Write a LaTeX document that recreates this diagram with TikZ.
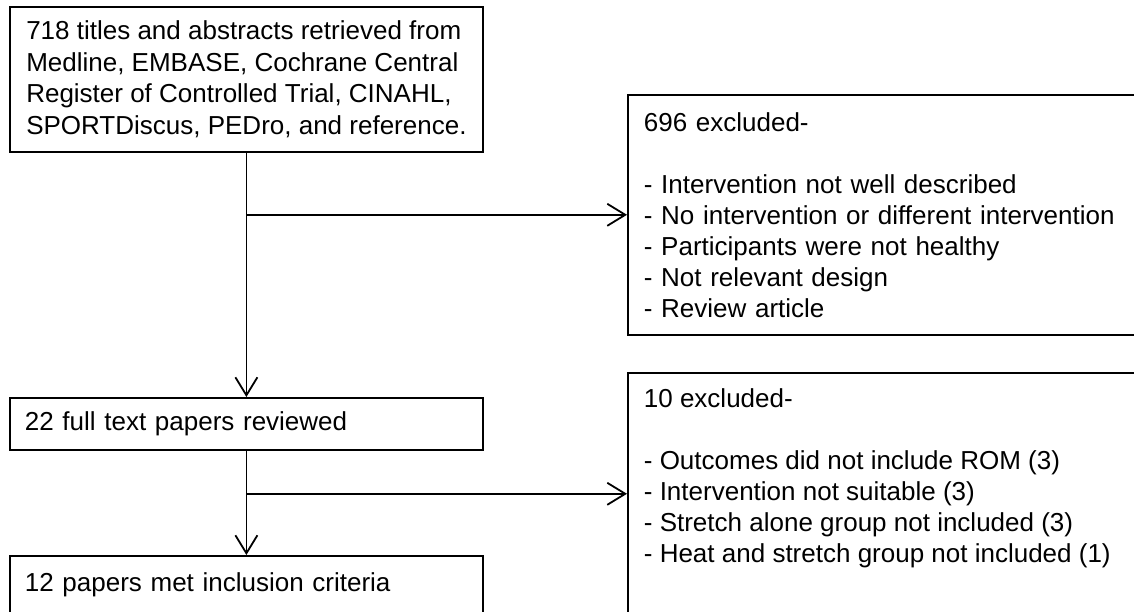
\documentclass[tikz,border=0pt]{standalone}
\usepackage{fontspec}
\setmainfont{Liberation Sans}
\usetikzlibrary{arrows.meta}
\begin{document}
\begin{tikzpicture}[x=1pt,y=-1pt,
  box/.style={draw, line width=1.8pt, anchor=north west, align=left,
    inner xsep=15pt, inner ysep=0pt, text width=443pt,
    font=\fontsize{26}{31.5}\selectfont},
  rbox/.style={draw, line width=1.8pt, anchor=north west, align=left,
    inner xsep=16pt, inner ysep=0pt, text width=560pt,
    font=\fontsize{26}{31}\selectfont},
  arr/.style={line width=1.8pt, -{Straight Barb[length=18pt,width=22pt]}}]
\clip (0,0) rectangle (1134,611);
\fill[white] (0,0) rectangle (1134,611);
\node[draw, line width=1.8pt, anchor=north west, align=left, inner sep=0pt,
  minimum width=473pt, minimum height=145pt, font=\fontsize{26}{31.5}\selectfont] (b1) at (9,6)
  {718 titles and abstracts retrieved from\\Medline, EMBASE, Cochrane Central\\Register of Controlled Trial, CINAHL,\\SPORTDiscus, PEDro, and reference.};
\node[rbox, minimum height=240pt] (r1) at (627,94)
  {696 excluded-\\[31pt]- Intervention not well described\\- No intervention or different intervention\\- Participants were not healthy\\- Not relevant design\\- Review article};
\node[box, minimum height=52pt] (b2) at (9,397) {22 full text papers reviewed};
\node[box, minimum height=58pt] (b3) at (9,555) {12 papers met inclusion criteria};
\node[draw, line width=1.8pt, anchor=north west, inner xsep=16pt, inner ysep=13pt] (r2) at (627,372)
  {\parbox[c][300pt][t]{560pt}{\fontsize{26}{31}\selectfont
   \strut 10 excluded-\\[31pt]
   \strut - Outcomes did not include ROM (3)\\
   \strut - Intervention not suitable (3)\\
   \strut - Stretch alone group not included (3)\\
   \strut - Heat and stretch group not included (1)}};
\path (b1.south) ++(0,62) coordinate (j1);
\path (b2.south) ++(0,43) coordinate (j2);
\draw[arr] (b1.south) -- (b2.north);
\draw[arr] (j1) -- (j1 -| r1.west);
\draw[arr] (b2.south) -- (b3.north);
\draw[arr] (j2) -- (j2 -| r2.west);
\end{tikzpicture}
\end{document}
